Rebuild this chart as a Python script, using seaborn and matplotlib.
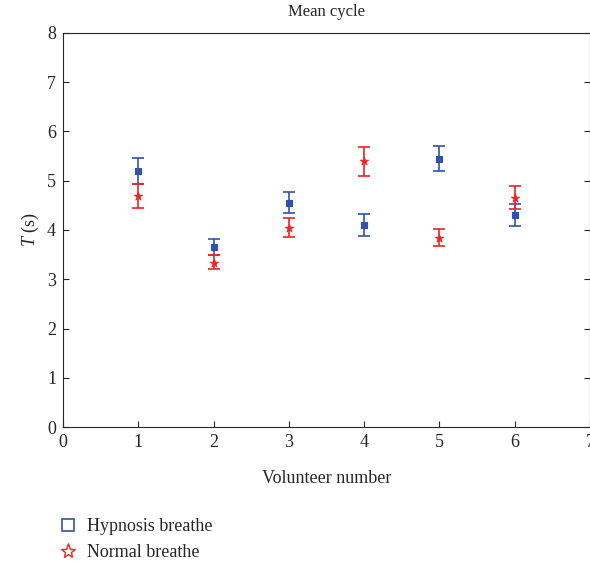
import numpy as np
import pandas as pd
import matplotlib
matplotlib.use("Agg")
import matplotlib.pyplot as plt
from matplotlib.lines import Line2D
import seaborn as sns

# data
volunteers = [1, 2, 3, 4, 5, 6]
hyp_mean = [5.20, 3.65, 4.55, 4.10, 5.45, 4.30]
hyp_low = [4.93, 3.50, 4.34, 3.88, 5.20, 4.08]
hyp_high = [5.47, 3.81, 4.77, 4.33, 5.70, 4.52]
norm_mean = [4.70, 3.34, 4.05, 5.40, 3.84, 4.64]
norm_low = [4.45, 3.21, 3.86, 5.10, 3.67, 4.42]
norm_high = [4.94, 3.50, 4.24, 5.69, 4.03, 4.89]

blue = "#3352a6"
red = "#ee2426"

sns.set_style("ticks")
plt.rcParams["font.family"] = ["Liberation Serif", "DejaVu Serif"]
plt.rcParams["mathtext.fontset"] = "custom"
plt.rcParams["mathtext.it"] = "Liberation Serif:italic"
plt.rcParams["mathtext.rm"] = "Liberation Serif"

df = pd.DataFrame({
    "vol": volunteers * 2,
    "T": hyp_mean + norm_mean,
    "group": ["Hypnosis breathe"] * 6 + ["Normal breathe"] * 6,
})

fig = plt.figure(figsize=(5.9, 5.64), dpi=100)
ax = fig.add_axes([0.1068, 0.2429, 0.8932, 0.6986])

# error bars
for mean, lo, hi, col in [(hyp_mean, hyp_low, hyp_high, blue),
                          (norm_mean, norm_low, norm_high, red)]:
    m = np.array(mean)
    yerr = [m - np.array(lo), np.array(hi) - m]
    ax.errorbar(volunteers, m, yerr=yerr, fmt="none", ecolor=col,
                elinewidth=1.2, capsize=4, capthick=1.2, zorder=2)

sns.scatterplot(data=df[df.group == "Hypnosis breathe"], x="vol", y="T",
                color=blue, marker="s", s=16, edgecolor=blue, linewidth=0.8,
                legend=False, ax=ax, zorder=3)
sns.scatterplot(data=df[df.group == "Normal breathe"], x="vol", y="T",
                color=red, marker="*", s=42, edgecolor=red, linewidth=0.5,
                legend=False, ax=ax, zorder=3)

ax.set_xlim(0, 7)
ax.set_ylim(0, 8)
ax.set_xticks(range(0, 8))
ax.set_yticks(range(0, 9))
ax.tick_params(direction="in", length=4, labelsize=13, top=False, right=True,
               pad=5)
for s in ax.spines.values():
    s.set_linewidth(0.8)
ax.set_xlabel("Volunteer number", fontsize=13, labelpad=14)
ax.set_ylabel("$T$ (s)", fontsize=13, labelpad=4)
ax.set_title("Mean cycle", fontsize=12, pad=12)

handles = [
    Line2D([], [], ls="none", marker="s", markersize=9, markerfacecolor="none",
           markeredgecolor=blue, markeredgewidth=1.2),
    Line2D([], [], ls="none", marker="*", markersize=11, markerfacecolor="none",
           markeredgecolor=red, markeredgewidth=1.0),
]
fig.legend(handles, ["Hypnosis breathe", "Normal breathe"], loc="upper left",
           bbox_to_anchor=(0.088, 0.094), frameon=False, fontsize=13,
           handlelength=1.0, handletextpad=0.55, labelspacing=0.5,
           borderaxespad=0)

fig.savefig("out.png", dpi=100)
